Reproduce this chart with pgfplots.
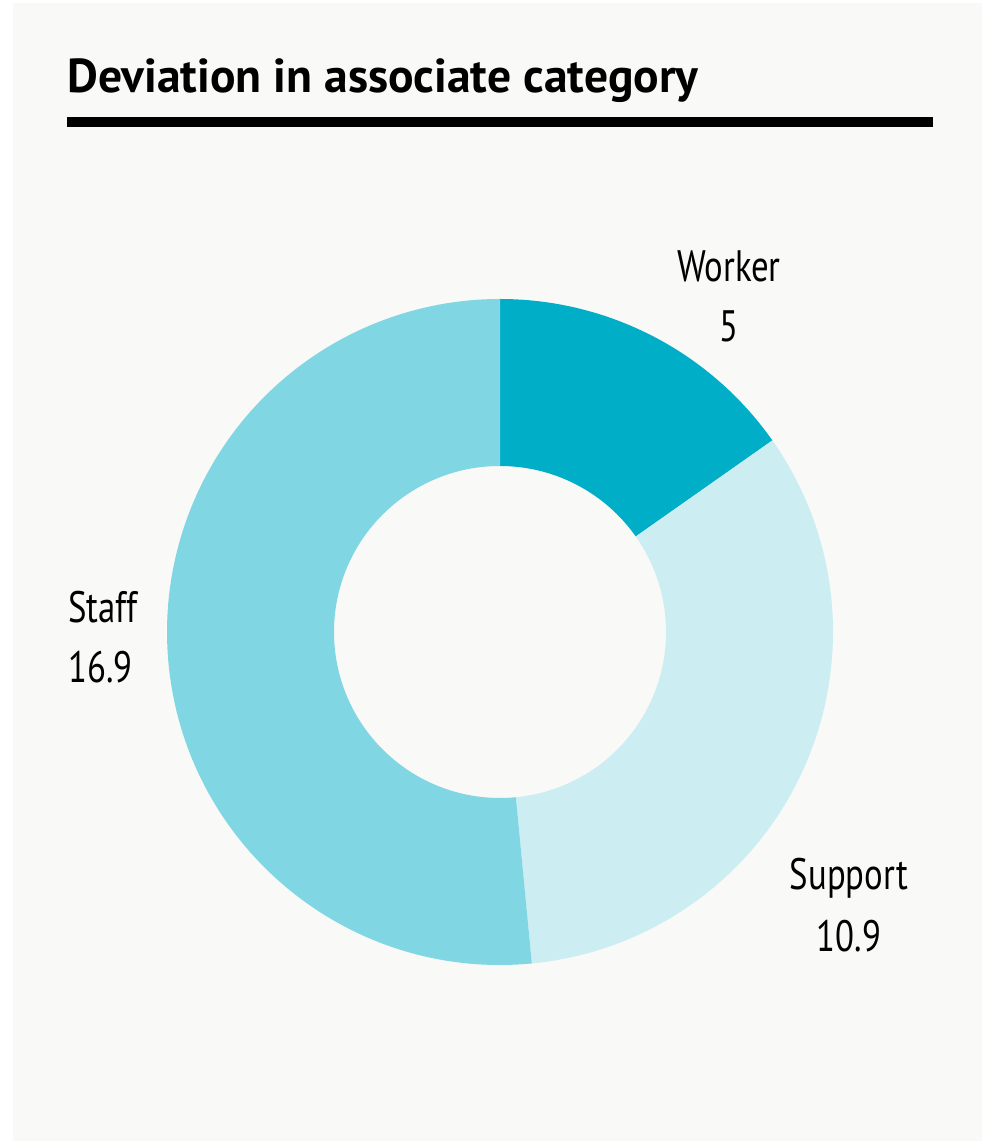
\documentclass[border=0pt]{standalone}
\usepackage{fontspec}
\setmainfont{PT Sans}
\newfontfamily\condfont{PT Sans}[FakeStretch=0.79]
\usepackage{pgfplots}
\pgfplotsset{compat=1.18}
\usepackage{pgfplotstable}
\usetikzlibrary{calc}

\definecolor{bgpanel}{HTML}{F9F9F7}
\definecolor{cworker}{HTML}{00AEC7}
\definecolor{csupport}{HTML}{CCEEF2}
\definecolor{cstaff}{HTML}{80D7E3}

% associate category shares
\pgfplotstableread{
label value
Worker 5
Support 10.9
Staff 16.9
}\shares

% annular sector: start angle, end angle, colour
\newcommand\slice[3]{%
  \fill[#3] ($(axis cs:500,509)+(#1:166.5pt)$)
    arc[start angle=#1, end angle=#2, radius=166.5pt]
    -- ($(axis cs:500,509)+(#2:83pt)$)
    arc[start angle=#2, end angle=#1, radius=83pt] -- cycle;}

\begin{document}
\begin{tikzpicture}[lbl/.style={font=\condfont\fontsize{22}{26}\selectfont, anchor=base}]
\pgfplotstablegetelem{0}{value}\of\shares \let\vA\pgfplotsretval
\pgfplotstablegetelem{1}{value}\of\shares \let\vB\pgfplotsretval
\pgfplotstablegetelem{2}{value}\of\shares \let\vC\pgfplotsretval
\pgfmathsetmacro\total{\vA+\vB+\vC}
\pgfmathsetmacro\aA{90}
\pgfmathsetmacro\aB{\aA-360*\vA/\total}
\pgfmathsetmacro\aC{\aB-360*\vB/\total}
\pgfmathsetmacro\aD{\aC-360*\vC/\total}
\begin{axis}[scale only axis, width=491pt, height=570.5pt,
  xmin=0, xmax=982, ymin=0, ymax=1141, hide axis, clip=false]
\fill[white] (axis cs:0,0) rectangle (axis cs:982,1141);
\fill[bgpanel] (axis cs:13,0) rectangle (axis cs:982,1138);
% title and rule
\node[anchor=base west, inner sep=0pt, font=\bfseries\fontsize{23.8}{28}\selectfont]
  at (axis cs:67,1048) {Deviation in associate category};
\fill[black] (axis cs:67,1014) rectangle (axis cs:933,1024);
% donut
\slice{\aA}{\aB}{cworker}
\slice{\aB}{\aC}{csupport}
\slice{\aC}{\aD}{cstaff}
% labels
\node[lbl] at (axis cs:729,859) {Worker};
\node[lbl] at (axis cs:729,799) {5};
\node[lbl, anchor=base west, inner sep=0pt] at (axis cs:68,518) {Staff};
\node[lbl, anchor=base west, inner sep=0pt] at (axis cs:68,458) {16.9};
\node[lbl] at (axis cs:849,251) {Support};
\node[lbl] at (axis cs:849,189) {10.9};
\end{axis}
\end{tikzpicture}
\end{document}
